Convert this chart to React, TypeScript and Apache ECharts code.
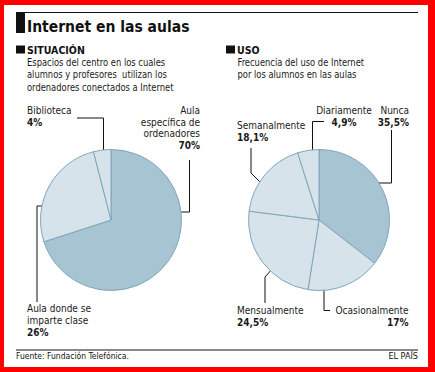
import React, { useEffect, useRef } from "react";
import * as echarts from "echarts";

// ---- data ----
const situacionNames = ["Aula\nespecífica de\nordenadores", "Aula donde se\nimparte clase", "Biblioteca"];
const situacionValues = [70, 26, 4];
const usoNames = ["Nunca", "Ocasionalmente", "Mensualmente", "Semanalmente", "Diariamente"];
const usoValues = [35.5, 17, 24.5, 18.1, 4.9];

const DARK = "#a7c4d3";
const LIGHT = "#d7e3ea";
const EDGE = "#7fa6ba";
const FONT = "'DejaVu Sans Condensed', 'DejaVu Sans', sans-serif";

// label placement (layout only)
const situacionLabels = [
  { x: 200, y: 104.5, align: "right", pts: [[171, 212], [189.5, 212], [189.5, 160]] },
  { x: 27, y: 303, align: "left", pts: [[52, 206], [37, 206], [37, 302]] },
  { x: 27, y: 105, align: "left", pts: [[103.5, 157], [103.5, 118], [77, 118]] },
];
const usoLabels = [
  { x: 409, y: 104.5, align: "right", pts: [[367, 183], [391.5, 183], [391.5, 130]] },
  { x: 408.5, y: 304.5, align: "right", pts: [[324, 286], [324, 310.5], [330, 310.5]] },
  { x: 237, y: 304.5, align: "left", pts: [[274, 267], [265, 277], [265, 303]] },
  { x: 237, y: 120, align: "left", pts: [[265, 187], [251, 173], [251, 148]] },
  { x: 344, y: 104.5, align: "center", pts: [[312.5, 157], [312.5, 121.5], [324, 121.5]] },
];

const fmtPct = (v: number) => String(v).replace(".", ",") + "%";

export default function App() {
  const ref = useRef<HTMLDivElement>(null);
  useEffect(() => {
    document.body.style.margin = "0";
    const chart = echarts.init(ref.current!, undefined, { renderer: "svg" });
    const mkSeries = (names: string[], values: number[], colors: string[], center: number[], labels: any[]) => ({
      type: "pie",
      center,
      radius: 70.5,
      startAngle: 90,
      clockwise: true,
      avoidLabelOverlap: false,
      silent: true,
      itemStyle: { borderColor: EDGE, borderWidth: 1 },
      data: names.map((n, i) => ({ name: n, value: values[i], itemStyle: { color: colors[i] } })),
      label: {
        show: true,
        position: "outside",
        fontFamily: FONT,
        fontSize: 10,
        lineHeight: 11.7,
        color: "#1a1a1a",
        formatter: (p: any) => `${p.name}\n{b|${fmtPct(p.value)}}`,
        rich: { b: { fontFamily: FONT, fontSize: 10, lineHeight: 11.7, fontWeight: "bold", color: "#1a1a1a" } },
      },
      labelLine: { show: true, lineStyle: { color: "#111", width: 1 } },
      labelLayout: (p: any) => {
        const l = labels[p.dataIndex];
        return { x: l.x, y: l.y, align: l.align, verticalAlign: "top", labelLinePoints: l.pts };
      },
    });
    chart.setOption({
      animation: false,
      backgroundColor: "#ffffff",
      graphic: [
        { type: "rect", shape: { x: 0, y: 0, width: 435, height: 5 }, style: { fill: "#ff0000" } },
        { type: "rect", shape: { x: 0, y: 367, width: 435, height: 5 }, style: { fill: "#ff0000" } },
        { type: "rect", shape: { x: 0, y: 0, width: 4, height: 372 }, style: { fill: "#ff0000" } },
        { type: "rect", shape: { x: 428, y: 0, width: 7, height: 372 }, style: { fill: "#ff0000" } },
        { type: "line", shape: { x1: 16, y1: 12.5, x2: 418, y2: 12.5 }, style: { stroke: "#111", lineWidth: 1 } },
        { type: "rect", shape: { x: 16, y: 13, width: 9, height: 20 }, style: { fill: "#111" } },
        { type: "text", x: 27, y: 26.5, style: { text: "Internet en las aulas", font: `bold 15.5px ${FONT}`, fill: "#111", verticalAlign: "middle" } },
        { type: "rect", shape: { x: 16, y: 45.5, width: 9, height: 8 }, style: { fill: "#111" } },
        { type: "text", x: 27, y: 49.5, style: { text: "SITUACIÓN", font: `bold 10.5px ${FONT}`, fill: "#111", verticalAlign: "middle" } },
        { type: "text", x: 27, y: 55.5, scaleX: 0.885, style: { text: "Espacios del centro en los cuales\nalumnos y profesores  utilizan los\nordenadores conectados a Internet", font: `10.5px ${FONT}`, lineHeight: 12.8, fill: "#1a1a1a", verticalAlign: "top" } },
        { type: "rect", shape: { x: 226, y: 45.5, width: 9, height: 8 }, style: { fill: "#111" } },
        { type: "text", x: 237, y: 49.5, style: { text: "USO", font: `bold 10.5px ${FONT}`, fill: "#111", verticalAlign: "middle" } },
        { type: "text", x: 237.5, y: 55.5, scaleX: 0.885, style: { text: "Frecuencia del uso de Internet\npor los alumnos en las aulas", font: `10.5px ${FONT}`, lineHeight: 12.8, fill: "#1a1a1a", verticalAlign: "top" } },
        { type: "line", shape: { x1: 16, y1: 350, x2: 418, y2: 350 }, style: { stroke: "#111", lineWidth: 1 } },
        { type: "text", x: 16, y: 356, style: { text: "Fuente: Fundación Telefónica.", font: `8.5px ${FONT}`, fill: "#111", verticalAlign: "middle" } },
        { type: "text", x: 418, y: 356, style: { text: "EL PAÍS", font: `9px ${FONT}`, fill: "#111", align: "right", verticalAlign: "middle" } },
      ],
      series: [
        mkSeries(situacionNames, situacionValues, [DARK, LIGHT, LIGHT], [111, 220], situacionLabels),
        mkSeries(usoNames, usoValues, [DARK, LIGHT, LIGHT, LIGHT, LIGHT], [319, 220], usoLabels),
      ],
    });
    return () => chart.dispose();
  }, []);
  return <div ref={ref} style={{ width: 435, height: 372, position: "fixed", left: 0, top: 0 }} />;
}
